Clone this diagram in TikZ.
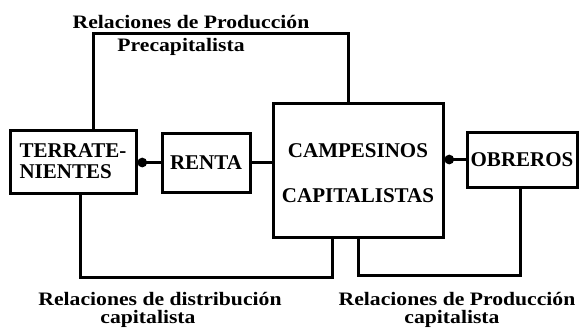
\documentclass[tikz,border=0pt]{standalone}
\usepackage{fontspec}
\setmainfont{Liberation Serif}
\newfontfamily\lblfont[FakeStretch=1.14]{Liberation Serif}
\usetikzlibrary{arrows.meta}
\begin{document}
\begin{tikzpicture}[x=1pt,y=-1pt,
  box/.style={draw,line width=3pt,inner sep=0pt,font=\fontsize{21}{24}\selectfont\bfseries},
  lbl/.style={inner sep=0pt,anchor=base,font=\lblfont\fontsize{19}{22}\selectfont\bfseries},
  conn/.style={line width=3pt},
  dot/.style={conn,-{Circle[length=9.5pt,width=9.5pt]}}]
\useasboundingbox (0,0) rectangle (579,330);
% boxes
\node[box,minimum width=126pt,minimum height=63pt,align=left] (terr) at (73,161.5) {TERRATE-\\[-3pt]NIENTES};
\node[box,minimum width=88pt,minimum height=59pt] (renta) at (206,162.5) {RENTA};
\node[box,minimum width=170pt,minimum height=134pt,align=center] (camp) at (358,170) {\rule{0pt}{6pt}\\[-9pt]CAMPESINOS\\[21pt]CAPITALISTAS};
\node[box,minimum width=110pt,minimum height=55pt] (obr) at (522,159.5) {OBREROS};
% connector corners
\coordinate (tl) at (93,33);
\coordinate (tr) at (348,33);
\coordinate (bl1) at (80,277);
\coordinate (bl2) at (332,277);
\coordinate (br1) at (358,275);
\coordinate (br2) at (520,275);
% connectors
\draw[conn] (terr.north -| tl) -- (tl) -- (tr) -- (camp.north -| tr);
\draw[dot] (renta.west) -- (renta.west -| terr.east);
\draw[conn] (renta.east) -- (renta.east -| camp.west);
\draw[dot] (obr.west) -- (obr.west -| camp.east);
\draw[conn] (terr.south -| bl1) -- (bl1) -- (bl2) -- (camp.south -| bl2);
\draw[conn] (camp.south -| br1) -- (br1) -- (br2) -- (obr.south -| br2);
% labels
\node[lbl] (l1) at (191,28) {Relaciones de Producción};
\node[lbl] (l2) at (181,51) {Precapitalista};
\node[lbl] (l3) at (160,305) {Relaciones de distribución};
\node[lbl] (l4) at (148,323) {capitalista};
\node[lbl] (l5) at (457,305) {Relaciones de Producción};
\node[lbl] (l6) at (452,323) {capitalista};
\end{tikzpicture}
\end{document}
